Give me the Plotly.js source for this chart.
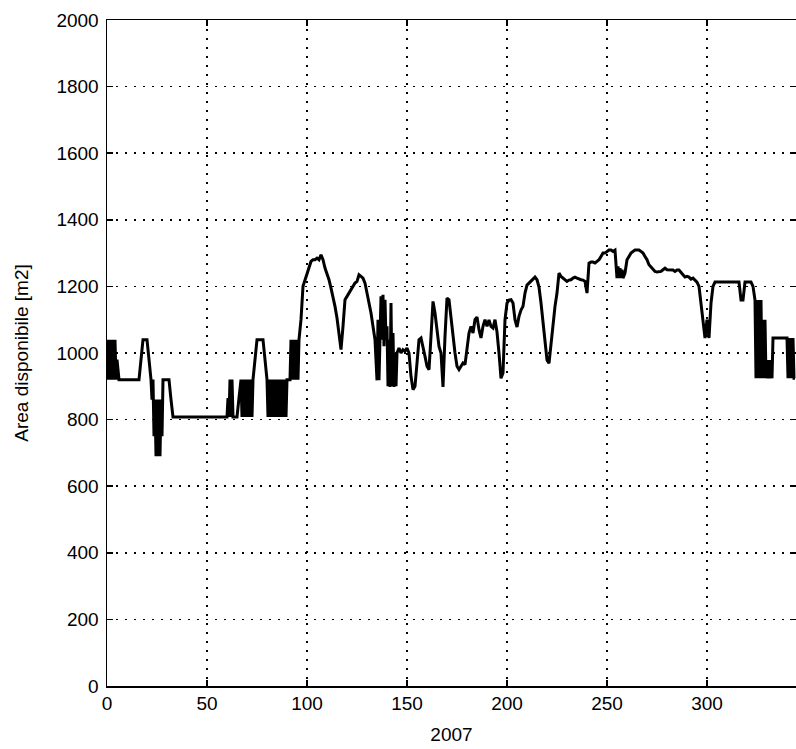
<!DOCTYPE html>
<html>
<head>
<meta charset="utf-8">
<script src="https://cdn.plot.ly/plotly-3.0.1.min.js"></script>
<style>
  html, body { margin: 0; padding: 0; background: #fff; }
  #chart { width: 796px; height: 749px; }
</style>
</head>
<body>
<div id="chart"></div>
<script>
// Available area (m2), one reading per day of 2007 starting at day 0
const area = [
  1040, 1040, 1040, 1040, 1040, 980, 920, 920, 920, 920,      // 0-9
  920, 920, 920, 920, 920, 920, 920, 980, 1040, 1040,         // 10-19
  1040, 980, 920, 920, 860, 860, 860, 860, 920, 920,          // 20-29
  920, 920, 860, 808, 808, 808, 808, 808, 808, 808,           // 30-39
  808, 808, 808, 808, 808, 808, 808, 808, 808, 808,           // 40-49
  808, 808, 808, 808, 808, 808, 808, 808, 808, 808,           // 50-59
  808, 808, 808, 808, 808, 808, 865, 920, 920, 920,           // 60-69
  920, 920, 920, 920, 980, 1040, 1040, 1040, 1040, 980,       // 70-79
  920, 920, 920, 920, 920, 920, 920, 920, 920, 920,           // 80-89
  920, 920, 1040, 1040, 1040, 1040, 1040, 1100, 1200, 1220,   // 90-99
  1240, 1260, 1275, 1280, 1280, 1285, 1280, 1295, 1280, 1255, // 100-109
  1240, 1220, 1195, 1170, 1140, 1105, 1060, 1010, 1080, 1160, // 110-119
  1170, 1180, 1190, 1200, 1210, 1215, 1235, 1230, 1225, 1210, // 120-129
  1180, 1155, 1120, 1080, 1040, 918, 918, 1170, 1175, 1160,   // 130-139
  1080, 1040, 1150, 1060, 1000, 1000, 1015, 1000, 1010, 1005, // 140-149
  1015, 1000, 930, 890, 900, 960, 1040, 1045, 1020, 990,      // 150-159
  960, 950, 1050, 1155, 1120, 1060, 1020, 1000, 898, 1050,    // 160-169
  1165, 1160, 1100, 1060, 1000, 960, 950, 960, 970, 965,      // 170-179
  1010, 1060, 1080, 1060, 1100, 1108, 1070, 1045, 1080, 1100, // 180-189
  1080, 1099, 1080, 1075, 1100, 1063, 1000, 924, 940, 1100,   // 190-199
  1150, 1159, 1160, 1150, 1100, 1078, 1110, 1129, 1140, 1180, // 200-209
  1204, 1210, 1215, 1220, 1228, 1220, 1198, 1150, 1099, 1030, // 210-219
  979, 969, 1030, 1090, 1140, 1180, 1240, 1230, 1225, 1219,   // 220-229
  1215, 1219, 1220, 1225, 1228, 1225, 1222, 1220, 1219, 1215, // 230-239
  1180, 1270, 1273, 1273, 1270, 1275, 1280, 1290, 1300, 1300, // 240-249
  1305, 1309, 1309, 1305, 1309, 1225, 1225, 1225, 1225, 1240, // 250-259
  1280, 1290, 1300, 1305, 1309, 1309, 1309, 1305, 1300, 1290, // 260-269
  1280, 1265, 1258, 1250, 1245, 1243, 1243, 1245, 1250, 1255, // 270-279
  1250, 1249, 1249, 1249, 1245, 1249, 1249, 1240, 1235, 1228, // 280-289
  1230, 1228, 1222, 1225, 1220, 1213, 1200, 1150, 1100, 1045, // 290-299
  1100, 1045, 1150, 1200, 1213, 1213, 1213, 1213, 1213, 1213, // 300-309
  1213, 1213, 1213, 1213, 1213, 1213, 1213, 1159, 1159, 1213, // 310-319
  1213, 1213, 1213, 1200, 1159, 1159, 1159, 1159, 1100, 1100, // 320-329
  979, 979, 979, 1045, 1045, 1045, 1045, 1045, 1045, 1045,    // 330-339
  1045, 1045, 1045, 1045, 924                                 // 340-344
];

// Extra mid-day readings where the value switched back and forth within a day
const midDays = [
  0.5, 1.5, 2.5, 3.5, 4.5,
  22.5, 23.5, 24.5, 25.5, 26.5, 27.5,
  60.5, 61.5, 62.5,
  67.5, 68.5, 69.5, 70.5, 71.5, 72.5,
  80.5, 81.5, 82.5, 83.5, 84.5, 85.5, 86.5, 87.5, 88.5, 89.5,
  91.5, 92.5, 93.5, 94.5, 95.5,
  135.5, 136.5, 137.5, 138.5, 139.5, 140.5, 141.5, 142.5, 143.5, 144.5,
  255.5, 256.5, 257.5,
  324.5, 325.5, 326.5, 327.5, 328.5, 329.5, 330.5, 331.5, 332.5,
  340.5, 341.5, 342.5, 343.5
];
const midArea = [
  920, 920, 920, 920, 920,
  860, 750, 690, 690, 690, 750,
  865, 920, 920,
  808, 808, 808, 808, 808, 808,
  808, 808, 808, 808, 808, 808, 808, 808, 808, 808,
  920, 920, 920, 920, 920,
  1100, 1100, 1040, 1020, 1040, 900, 898, 900, 898, 900,
  1260, 1255, 1250,
  924, 924, 924, 924, 924, 924, 924, 924, 924,
  924, 924, 924, 924
];

const xTicks = [0, 50, 100, 150, 200, 250, 300];
const yTicks = [0, 200, 400, 600, 800, 1000, 1200, 1400, 1600, 1800, 2000];

const xTitle = '2007';
const yTitle = 'Area disponibile [m2]';

// merge daily and mid-day readings in time order
const readings = area.map((v, i) => [i, v])
  .concat(midDays.map((d, i) => [d, midArea[i]]))
  .sort((a, b) => a[0] - b[0]);

const tickFont = { family: 'Liberation Sans, Arial, sans-serif', size: 19, color: '#000' };

const axisCommon = {
  showline: true,
  linecolor: '#000',
  linewidth: 1.5,
  mirror: 'ticks',
  ticks: 'inside',
  ticklen: 6,
  tickwidth: 1.5,
  tickcolor: '#000',
  showgrid: true,
  gridcolor: '#000',
  gridwidth: 1.5,
  griddash: '2px,7px',
  zeroline: false,
  tickfont: tickFont
};

const trace = {
  x: readings.map(r => r[0]),
  y: readings.map(r => r[1]),
  type: 'scatter',
  mode: 'lines',
  line: { color: '#000', width: 3, shape: 'linear' },
  hoverinfo: 'skip'
};

const layout = {
  width: 796,
  height: 749,
  margin: { l: 107, r: 0, t: 20, b: 63 },
  paper_bgcolor: '#fff',
  plot_bgcolor: '#fff',
  showlegend: false,
  xaxis: Object.assign({}, axisCommon, {
    range: [0, 344.5],
    tickvals: xTicks,
    ticktext: xTicks.map(String),
    title: { text: xTitle, font: tickFont, standoff: 14 },
    automargin: false
  }),
  yaxis: Object.assign({}, axisCommon, {
    range: [0, 2000],
    tickvals: yTicks,
    ticktext: yTicks.map(String),
    ticklabelstandoff: 3,
    title: { text: yTitle, font: tickFont, standoff: 23 },
    automargin: false
  })
};

Plotly.newPlot('chart', [trace], layout, { staticPlot: true, displayModeBar: false });
</script>
</body>
</html>
